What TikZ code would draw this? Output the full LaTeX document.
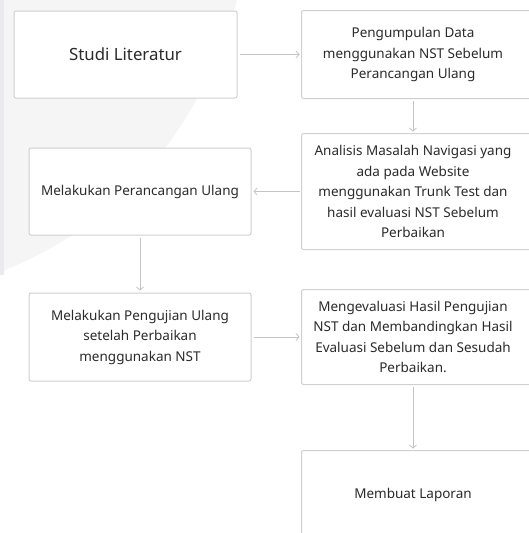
\documentclass[tikz,border=0pt]{standalone}
\usepackage{fontspec}
\setmainfont{Noto Sans}
\usetikzlibrary{arrows.meta}
\definecolor{bordc}{HTML}{D0D0D0}
\definecolor{arrc}{HTML}{C4C4C4}
\definecolor{txtc}{HTML}{2B2B2B}
\definecolor{bgg}{HTML}{F5F5F6}
\definecolor{stripc}{HTML}{EBEBED}
\begin{document}
\begin{tikzpicture}[x=1pt,y=-1pt,
  boxline/.style={draw=bordc, line width=1pt, rounded corners=2pt},
  box/.style={boxline, fill=white, minimum width=222pt, align=center, text=txtc,
    font=\fontsize{13.5}{20.5}\selectfont, inner sep=0pt},
  rbox/.style={box, draw=none},
  conn/.style={draw=arrc, line width=0.8pt, shorten <=2pt, shorten >=2pt,
    -{Straight Barb[length=3pt,width=7pt]}}]
\useasboundingbox (0,0) rectangle (529,533);
\fill[white] (0,0) rectangle (529,533);
\fill[bgg] (0,0) -- (237,0) .. controls (200,130) and (120,225) .. (0,272) -- cycle;
\fill[stripc] (0,0) rectangle (4,275);

\node[box, minimum width=223pt, minimum height=87pt, font=\fontsize{16.8}{22}\selectfont] (b1) at (125.5,54.5) {Studi Literatur};
\node[box, minimum height=87pt] (b4) at (140,191.5) {Melakukan Perancangan Ulang};
\node[box, minimum height=88pt] (b5) at (140,337) {Melakukan Pengujian Ulang\\setelah Perbaikan\\menggunakan NST};

\node[rbox, minimum height=87pt] (b2) at (413,54.5) {Pengumpulan Data\\menggunakan NST Sebelum\\Perancangan Ulang};
\node[rbox, minimum height=115pt] (b3) at (413,191.5) {Analisis Masalah Navigasi yang\\ada pada Website\\menggunakan Trunk Test dan\\hasil evaluasi NST Sebelum\\Perbaikan};
\node[rbox, minimum height=94pt] (b6) at (413,337) {Mengevaluasi Hasil Pengujian\\NST dan Membandingkan Hasil\\Evaluasi Sebelum dan Sesudah\\Perbaikan.};
\node[rbox, minimum height=88pt] (b7) at (413,495) {Membuat Laporan};

\foreach \b in {b2,b3,b6,b7}{
  \draw[boxline] ([xshift=20pt]\b.north east) -- (\b.north west) -- (\b.south west) -- ([xshift=20pt]\b.south east);
}

\draw[conn] (b1) -- (b2);
\draw[conn] (b2) -- (b3);
\draw[conn] (b3) -- (b4);
\draw[conn] (b4) -- (b5);
\draw[conn] (b5) -- (b6);
\draw[conn] (b6) -- (b7);
\end{tikzpicture}
\end{document}
